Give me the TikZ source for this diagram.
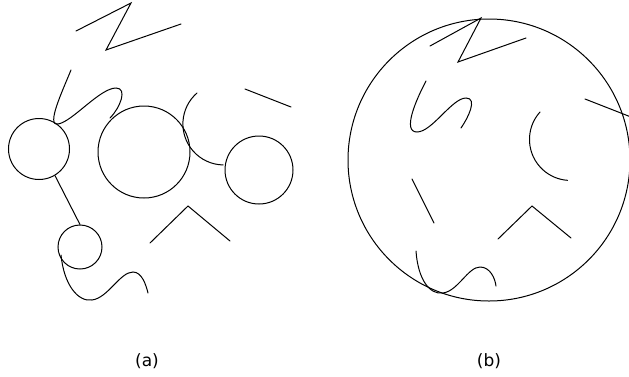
\documentclass[tikz,border=0pt]{standalone}
\usepackage{fontspec}
\newfontfamily\capfont{DejaVu Sans}
\usepackage{tikz}
\usetikzlibrary{positioning}

\begin{document}
\begin{tikzpicture}[
  x=1pt, y=-1pt,
  ring/.style={
    circle,
    draw,
    inner sep=0pt,
    line width=1pt
  },
  stroke/.style={line width=1pt, line cap=round, line join=miter},
  caption/.style={font=\capfont\fontsize{17}{20}\selectfont, inner sep=0pt}
]
\useasboundingbox (0,0) rectangle (629,376);

% (a) scattered pieces
\node[ring, minimum size=61pt] (leftring) at (39,149) {};
\node[ring, minimum size=92pt] (bigring) at (144,152) {};
\node[ring, minimum size=68pt] (rightring) at (259,170) {};
\node[ring, minimum size=44pt] (smallring) at (80,247) {};

\draw[stroke] (leftring.-59) -- (smallring.north);
\draw[stroke] (76,31) -- (131,3) -- (106,50) -- (181,24);
\draw[stroke] (71,70) .. controls (62,92) and (46,126) .. (58,124)
  .. controls (72,122) and (100,88) .. (116,88)
  .. controls (128,88) and (120,108) .. (110,118);
\draw[stroke] (61,255) .. controls (64,285) and (78,302) .. (92,300)
  .. controls (108,298) and (120,272) .. (133,272)
  .. controls (142,272) and (146,285) .. (148,293);
\draw[stroke] (197,93) arc[start angle=229, end angle=91, radius=41];
\draw[stroke] (245,89) -- (291,107);
\draw[stroke] (150,243) -- (188,206) -- (230,241);

% (b) pieces inside the outer ring
\node[ring, minimum size=282pt] (outerring) at (489,160) {};

\draw[stroke] (430,46) -- (481,18) -- (458,62) -- (526,38);
\draw[stroke] (426,81) .. controls (416,100) and (402,132) .. (417,132)
  .. controls (432,132) and (452,98) .. (466,98)
  .. controls (478,98) and (468,118) .. (461,128);
\draw[stroke] (540,112) arc[start angle=222, end angle=94, radius=41];
\draw[stroke] (585,99) -- (631,117);
\draw[stroke] (412,179) -- (434,223);
\draw[stroke] (498,239) -- (532,206) -- (571,238);
\draw[stroke] (416,251) .. controls (418,280) and (430,295) .. (443,293)
  .. controls (458,291) and (468,267) .. (480,267)
  .. controls (490,267) and (495,278) .. (496,286);

\node[caption] (labela) at (147,361) {(a)};
\node[caption] (labelb) at (489,361) {(b)};
\end{tikzpicture}
\end{document}
